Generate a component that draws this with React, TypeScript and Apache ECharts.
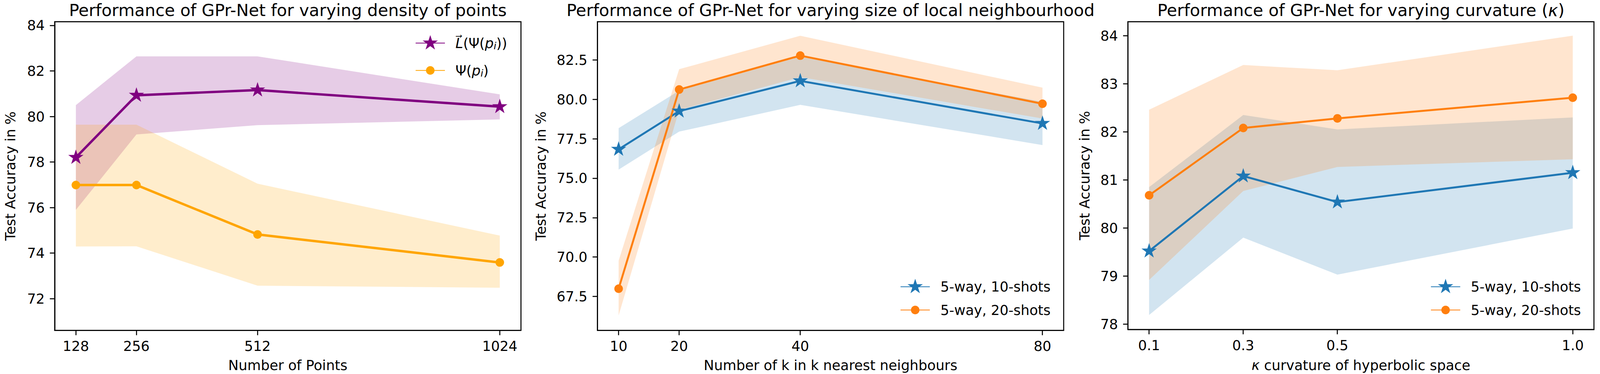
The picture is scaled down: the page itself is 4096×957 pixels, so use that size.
import React, { useEffect, useRef } from 'react';
import * as echarts from 'echarts';

const FONT = '"DejaVu Sans", sans-serif';

// ---------- Panel 1: density of points ----------
const P1_X = [128, 256, 512, 1024];
const P1_L_MEAN = [78.2, 80.93, 81.16, 80.43];
const P1_L_LO = [75.9, 79.21, 79.62, 79.87];
const P1_L_HI = [80.5, 82.64, 82.64, 80.97];
const P1_PSI_MEAN = [76.99, 76.99, 74.82, 73.59];
const P1_PSI_LO = [74.29, 74.3, 72.57, 72.48];
const P1_PSI_HI = [79.64, 79.64, 77.05, 74.77];
const P1_XTICKS = [128, 256, 512, 1024];
const P1_YTICKS = [72, 74, 76, 78, 80, 82, 84];

// ---------- Panel 2: size of local neighbourhood ----------
const P2_X = [10, 20, 40, 80];
const P2_S10_MEAN = [76.83, 79.25, 81.17, 78.47];
const P2_S10_LO = [75.54, 77.95, 79.65, 77.1];
const P2_S10_HI = [78.17, 80.55, 82.7, 79.84];
const P2_S20_MEAN = [67.99, 80.62, 82.77, 79.72];
const P2_S20_LO = [66.29, 79.33, 81.41, 78.78];
const P2_S20_HI = [69.76, 81.91, 84.03, 80.74];
const P2_XTICKS = [10, 20, 40, 80];
const P2_YTICKS = [67.5, 70, 72.5, 75, 77.5, 80, 82.5];

// ---------- Panel 3: curvature ----------
const P3_X = [0.1, 0.3, 0.5, 1.0];
const P3_S10_MEAN = [79.52, 81.08, 80.54, 81.15];
const P3_S10_LO = [78.19, 79.8, 79.03, 79.99];
const P3_S10_HI = [80.85, 82.35, 82.05, 82.3];
const P3_S20_MEAN = [80.68, 82.08, 82.28, 82.71];
const P3_S20_LO = [78.92, 80.77, 81.27, 81.43];
const P3_S20_HI = [82.46, 83.39, 83.28, 84.0];
const P3_XTICKS = [0.1, 0.3, 0.5, 1.0];
const P3_YTICKS = [78, 79, 80, 81, 82, 83, 84];

const NAME_L = 'L(Ψ(p_i))';
const NAME_PSI = 'Ψ(p_i)';
const NAME_10 = '5-way, 10-shots';
const NAME_20 = '5-way, 20-shots';

const TITLES = [
  'Performance of GPr-Net for varying density of points',
  'Performance of GPr-Net for varying size of local neighbourhood',
  'Performance of GPr-Net for varying curvature ({it|κ})',
];
const XLABELS = ['Number of Points', 'Number of k in k nearest neighbours', '{it|κ} curvature of hyperbolic space'];
const YLABEL = 'Test Accuracy in %';

// matplotlib-like 5 point star, centred in a square box
const STAR =
  'path://M0 0M100 100M50 0L61.23 34.55L97.55 34.55L68.17 55.9L79.39 90.45L50 69.1L20.61 90.45L31.83 55.9L2.45 34.55L38.77 34.55Z';

const C_PURPLE = '#800080';
const C_ORANGE = '#ffa500';
const C_BLUE = '#1f77b4';
const C_TORANGE = '#ff7f0e';

const FS = 35.4;
const TITLE_FS = 42.8;
const STAR_SIZE = 41;
const CIRCLE_SIZE = 22;
const TOP = 55.6;
const HEIGHT = 789.7;
const GRIDS = [
  { left: 140, width: 1193.7 },
  { left: 1529.4, width: 1193.6 },
  { left: 2887.5, width: 1193 },
];
const XRANGES = [
  [83.2, 1068.8],
  [6.5, 83.5],
  [0.055, 1.045],
];
const YRANGES = [
  [70.61, 84.16],
  [65.35, 84.92],
  [77.89, 84.29],
];
const Y_NAMEGAP = [96, 127, 94];

const rich = {
  it: { fontStyle: 'italic', fontSize: FS, fontFamily: FONT, color: '#000', lineHeight: 40 },
  sub: { fontStyle: 'italic', fontSize: 25, fontFamily: FONT, color: '#000', lineHeight: 26, verticalAlign: 'bottom' },
};

function band(gi: number, xs: number[], lo: number[], hi: number[], fill: string) {
  return {
    type: 'custom',
    xAxisIndex: gi,
    yAxisIndex: gi,
    silent: true,
    z: 1,
    data: xs.map((x, i) => [x, lo[i], hi[i]]),
    encode: { x: 0, y: [1, 2] },
    renderItem: (params: any, api: any) => {
      if (params.dataIndex !== 0) return null;
      const top = xs.map((x, i) => api.coord([x, hi[i]]));
      const bot = xs.map((x, i) => api.coord([x, lo[i]])).reverse();
      return { type: 'polygon', shape: { points: top.concat(bot) }, style: { fill } };
    },
  };
}

function line(gi: number, name: string, xs: number[], ys: number[], color: string, star: boolean, width: number) {
  return {
    type: 'line',
    name,
    xAxisIndex: gi,
    yAxisIndex: gi,
    z: 3,
    data: xs.map((x, i) => [x, ys[i]]),
    symbol: star ? STAR : 'circle',
    symbolSize: star ? STAR_SIZE : CIRCLE_SIZE,
    showSymbol: true,
    itemStyle: { color, borderWidth: 0 },
    lineStyle: { color, width },
    emphasis: { disabled: true },
  };
}

function legend(name: string, left: number, centerY: number, star: boolean, label: string) {
  const ih = star ? STAR_SIZE / 0.8 : CIRCLE_SIZE / 0.8;
  const boxH = Math.max(ih, 40);
  return {
    data: [name],
    left,
    top: centerY - boxH / 2,
    padding: 0,
    itemWidth: 75,
    itemHeight: ih,
    selectedMode: false,
    formatter: () => label,
    textStyle: { fontSize: FS, fontFamily: FONT, color: '#000', lineHeight: 40, padding: [0, 0, 0, 22], rich },
  };
}

function xAxis(gi: number, ticks: number[], fmt: (v: number) => string) {
  return {
    type: 'value',
    gridIndex: gi,
    min: XRANGES[gi][0],
    max: XRANGES[gi][1],
    axisLine: { show: true, lineStyle: { color: '#000', width: 2.6 } },
    axisTick: { show: true, inside: false, length: 12.4, lineStyle: { color: '#000', width: 2.6 }, customValues: ticks },
    axisLabel: { show: true, customValues: ticks, formatter: fmt, fontSize: FS, fontFamily: FONT, color: '#000', margin: 22.6 },
    splitLine: { show: false },
    name: XLABELS[gi],
    nameLocation: 'middle',
    nameGap: 71.5,
    nameTextStyle: { fontSize: FS, fontFamily: FONT, color: '#000', rich },
  };
}

function yAxis(gi: number, ticks: number[], fmt: (v: number) => string) {
  return {
    type: 'value',
    gridIndex: gi,
    min: YRANGES[gi][0],
    max: YRANGES[gi][1],
    axisLine: { show: true, lineStyle: { color: '#000', width: 2.6 } },
    axisTick: { show: true, inside: false, length: 12.4, lineStyle: { color: '#000', width: 2.6 }, customValues: ticks },
    axisLabel: { show: true, customValues: ticks, formatter: fmt, fontSize: FS, fontFamily: FONT, color: '#000', margin: 25.5 },
    splitLine: { show: false },
    name: YLABEL,
    nameLocation: 'middle',
    nameGap: Y_NAMEGAP[gi],
    nameTextStyle: { fontSize: FS, fontFamily: FONT, color: '#000' },
  };
}

const intFmt = (v: number) => String(Math.round(v));
const oneDec = (v: number) => v.toFixed(1);

function buildOption() {
  const grid = GRIDS.map((g) => ({
    left: g.left,
    width: g.width,
    top: TOP,
    height: HEIGHT,
    show: true,
    borderColor: '#000',
    borderWidth: 2.6,
    backgroundColor: 'transparent',
    containLabel: false,
  }));

  const titles = TITLES.map((t, i) => ({
    type: 'text',
    x: GRIDS[i].left + GRIDS[i].width / 2,
    y: 26,
    silent: true,
    style: {
      text: t,
      fontSize: TITLE_FS,
      fontFamily: FONT,
      fill: '#000',
      align: 'center',
      verticalAlign: 'middle',
      lineHeight: 46,
      rich: {
        it: { fontStyle: 'italic', fontSize: TITLE_FS, fontFamily: FONT, fill: '#000', lineHeight: 46 },
      },
    },
  }));

  const W1 = 6.2;
  const W2 = 5.0;

  return {
    animation: false,
    grid,
    xAxis: [xAxis(0, P1_XTICKS, intFmt), xAxis(1, P2_XTICKS, intFmt), xAxis(2, P3_XTICKS, oneDec)],
    yAxis: [yAxis(0, P1_YTICKS, intFmt), yAxis(1, P2_YTICKS, oneDec), yAxis(2, P3_YTICKS, intFmt)],
    legend: [
      legend(NAME_L, 1063, 115.3, true, '{it|L\u20D7}(Ψ({it|p}{sub|i}))'),
      legend(NAME_PSI, 1063, 180.2, false, 'Ψ({it|p}{sub|i})'),
      legend(NAME_10, 2304.4, 738.8, true, NAME_10),
      legend(NAME_20, 2304.4, 793.2, false, NAME_20),
      legend(NAME_10, 3662.2, 738.8, true, NAME_10),
      legend(NAME_20, 3662.2, 793.2, false, NAME_20),
    ],
    graphic: titles,
    series: [
      band(0, P1_X, P1_L_LO, P1_L_HI, 'rgba(128,0,128,0.2)'),
      band(0, P1_X, P1_PSI_LO, P1_PSI_HI, 'rgba(255,165,0,0.2)'),
      line(0, NAME_L, P1_X, P1_L_MEAN, C_PURPLE, true, W1),
      line(0, NAME_PSI, P1_X, P1_PSI_MEAN, C_ORANGE, false, W1),

      band(1, P2_X, P2_S10_LO, P2_S10_HI, 'rgba(31,119,180,0.2)'),
      band(1, P2_X, P2_S20_LO, P2_S20_HI, 'rgba(255,127,14,0.2)'),
      line(1, NAME_10, P2_X, P2_S10_MEAN, C_BLUE, true, W2),
      line(1, NAME_20, P2_X, P2_S20_MEAN, C_TORANGE, false, W2),

      band(2, P3_X, P3_S10_LO, P3_S10_HI, 'rgba(31,119,180,0.2)'),
      band(2, P3_X, P3_S20_LO, P3_S20_HI, 'rgba(255,127,14,0.2)'),
      line(2, NAME_10, P3_X, P3_S10_MEAN, C_BLUE, true, W2),
      line(2, NAME_20, P3_X, P3_S20_MEAN, C_TORANGE, false, W2),
    ],
  };
}

export default function App() {
  const ref = useRef<HTMLDivElement>(null);
  useEffect(() => {
    document.body.style.margin = '0';
    const chart = echarts.init(ref.current as HTMLDivElement, null, { renderer: 'svg' });
    chart.setOption(buildOption() as any);
    return () => {
      chart.dispose();
    };
  }, []);
  return <div ref={ref} style={{ width: 4096, height: 957 }} />;
}
